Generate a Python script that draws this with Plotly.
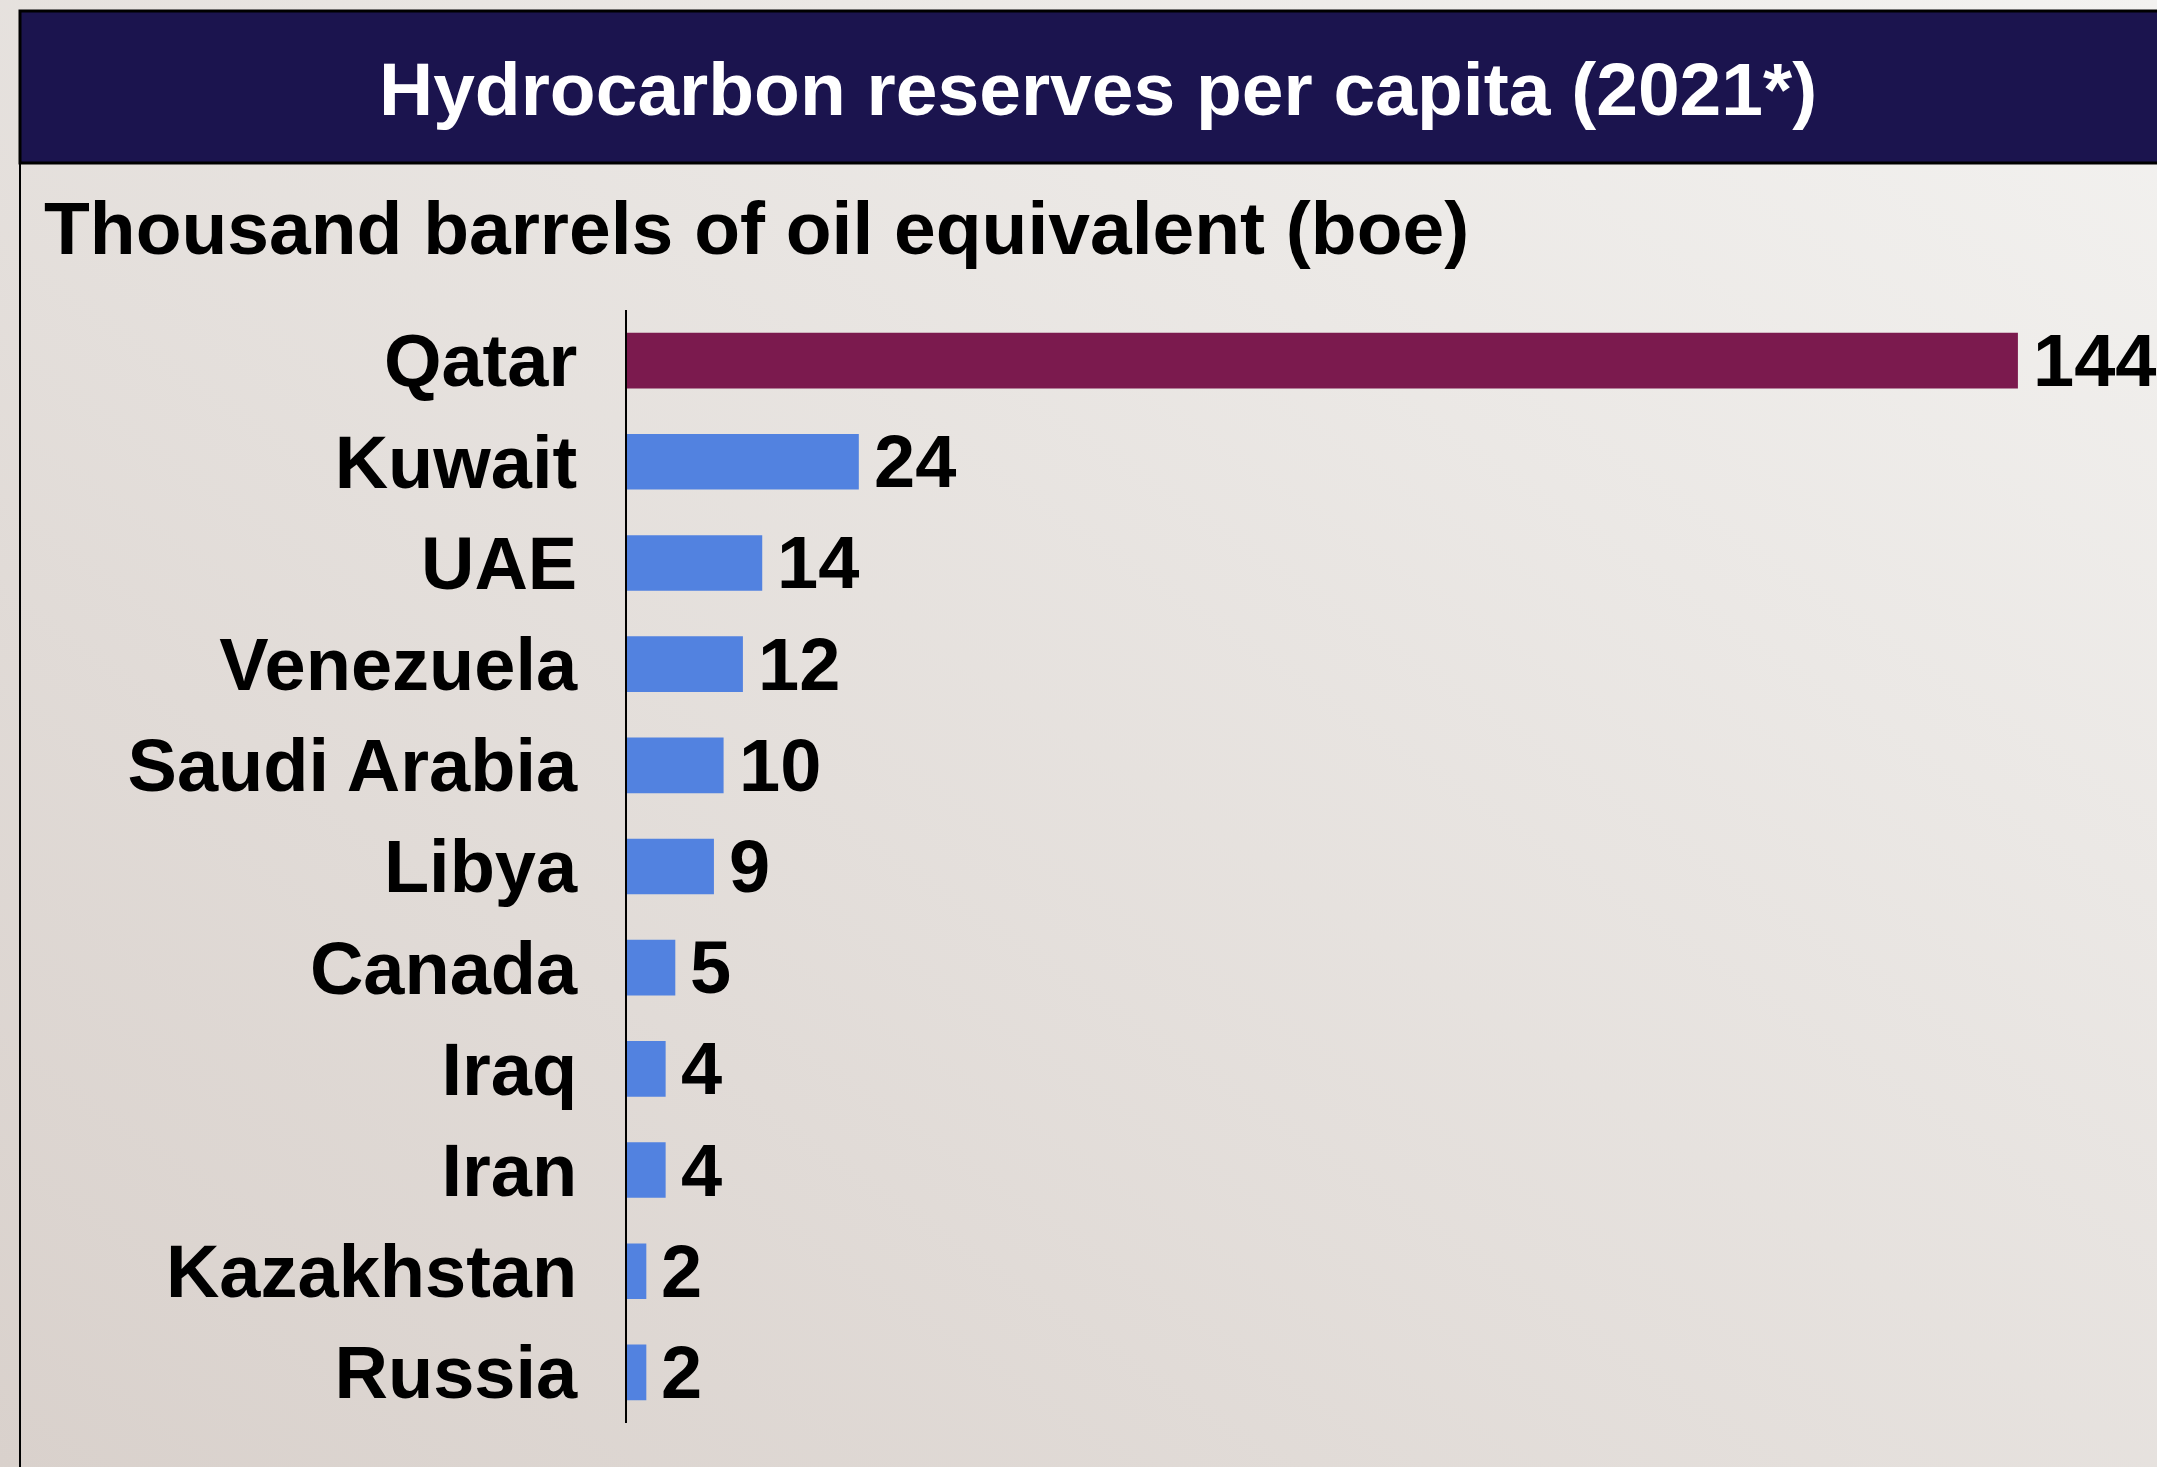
import base64
import plotly.graph_objects as go

countries = ["Qatar", "Kuwait", "UAE", "Venezuela", "Saudi Arabia", "Libya",
             "Canada", "Iraq", "Iran", "Kazakhstan", "Russia"]
reserves = [144, 24, 14, 12, 10, 9, 5, 4, 4, 2, 2]
value_labels = ["144", "24", "14", "12", "10", "9", "5", "4", "4", "2", "2"]

title_text = "Hydrocarbon reserves per capita (2021*)"
subtitle_text = "Thousand barrels of oil equivalent (boe)"

W, H = 2157, 1467
L, R, T, B = 627, 0, 310, 44
PW, PH = W - L - R, H - T - B


def px_x(px):
    return (px - L) / PW


def px_y(py):
    return (H - B - py) / PH


bar_colors = ["#7b1a4e" if c == "Qatar" else "#5282e0" for c in countries]
font_family = "Liberation Sans, Arial, sans-serif"

# soft diagonal gradient used as page background
svg = (
    '<svg xmlns="http://www.w3.org/2000/svg" width="200" height="200" '
    'preserveAspectRatio="none"><defs><linearGradient id="g" x1="1" y1="0" '
    'x2="0" y2="1"><stop offset="0" stop-color="#f3f2f0"/>'
    '<stop offset="1" stop-color="#d9d1cc"/></linearGradient></defs>'
    '<rect width="200" height="200" fill="url(#g)"/></svg>'
)
bg_src = "data:image/svg+xml;base64," + base64.b64encode(svg.encode()).decode()

fig = go.Figure()

fig.add_trace(
    go.Bar(
        y=countries,
        x=reserves,
        orientation="h",
        marker_color=bar_colors,
        marker_line_width=0,
        width=0.55,
        hoverinfo="skip",
    )
)

for c, v, t in zip(countries, reserves, value_labels):
    fig.add_annotation(
        x=v, y=c, text=t, xref="x", yref="y",
        xanchor="left", yanchor="middle", xshift=13, yshift=0,
        showarrow=False,
        font=dict(family=font_family, size=74, color="black", weight="bold"),
    )

# title bar
fig.add_shape(
    type="rect", xref="paper", yref="paper",
    x0=px_x(20), x1=px_x(2175), y0=px_y(163), y1=px_y(11),
    fillcolor="#1b144e", line=dict(color="black", width=3), layer="above",
)
# left frame line
fig.add_shape(
    type="line", xref="paper", yref="paper",
    x0=px_x(20), x1=px_x(20), y0=px_y(163), y1=px_y(1480),
    line=dict(color="black", width=2),
)

fig.add_annotation(
    x=px_x(1098), y=px_y(89), xref="paper", yref="paper",
    text=title_text, showarrow=False, xanchor="center", yanchor="middle",
    font=dict(family=font_family, size=75, color="white", weight="bold"),
)
fig.add_annotation(
    x=px_x(42), y=px_y(228), xref="paper", yref="paper",
    text=subtitle_text, showarrow=False, xanchor="left", yanchor="middle",
    font=dict(family=font_family, size=75, color="black", weight="bold"),
)

fig.add_layout_image(
    source=bg_src, xref="paper", yref="paper",
    x=px_x(0), y=px_y(0), sizex=W / PW, sizey=H / PH,
    xanchor="left", yanchor="top", sizing="stretch", layer="below",
)

fig.update_layout(
    width=W,
    height=H,
    margin=dict(l=L, r=R, t=T, b=B, pad=0),
    paper_bgcolor="#e6e2de",
    plot_bgcolor="rgba(0,0,0,0)",
    showlegend=False,
    xaxis=dict(
        range=[0, 158.4], visible=False, showgrid=False, zeroline=False,
    ),
    yaxis=dict(
        categoryorder="array",
        categoryarray=countries,
        autorange="reversed",
        showline=True,
        linecolor="black",
        linewidth=2,
        showgrid=False,
        ticks="",
        ticklabelstandoff=33,
        tickfont=dict(family=font_family, size=74, color="black", weight="bold"),
    ),
)

fig.write_html(
    "out.html",
    config={"displayModeBar": False},
    post_script="document.body.style.margin='0';document.body.style.overflow='hidden';",
)
